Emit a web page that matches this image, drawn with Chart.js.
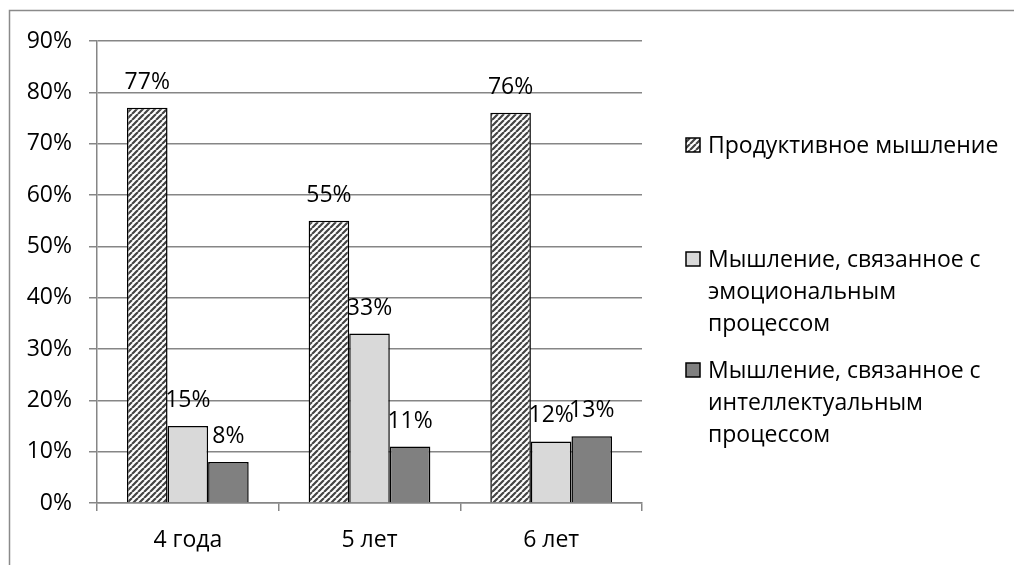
<!DOCTYPE html>
<html>
<head>
<meta charset="utf-8">
<script src="https://cdn.jsdelivr.net/npm/chart.js@4.4.0/dist/chart.umd.min.js"></script>
<style>
  html, body { margin: 0; padding: 0; background: #fff; }
  #wrap { width: 1014px; height: 565px; position: relative; }
</style>
</head>
<body>
<div id="wrap"><canvas id="c" width="1014" height="565"></canvas></div>
<script>
// Age groups along the x axis
const categories = ['4 года', '5 лет', '6 лет'];

// Series names and their wrapped legend lines
const seriesNames = [
  'Продуктивное мышление',
  'Мышление, связанное с эмоциональным процессом',
  'Мышление, связанное с интеллектуальным процессом'
];
const legendLines = [
  ['Продуктивное мышление'],
  ['Мышление, связанное с', 'эмоциональным', 'процессом'],
  ['Мышление, связанное с', 'интеллектуальным', 'процессом']
];

// Shares, in percent
const productive = [77, 55, 76];
const emotional = [15, 33, 12];
const intellectual = [8, 11, 13];

// Value axis
const yTickLabels = ['0%', '10%', '20%', '30%', '40%', '50%', '60%', '70%', '80%', '90%'];

const FONT = '"Open Sans", sans-serif';
const FONT_SIZE = 23;
const AXIS_GRAY = '#868686';

const canvas = document.getElementById('c');
const ctx0 = canvas.getContext('2d');

// Upward diagonal hatch used for the first series
function makeHatch() {
  const s = 6;
  const t = document.createElement('canvas');
  t.width = s; t.height = s;
  const g = t.getContext('2d');
  g.fillStyle = '#ffffff';
  g.fillRect(0, 0, s, s);
  g.strokeStyle = '#444444';
  g.lineWidth = 2.2;
  g.beginPath();
  for (let k = -1; k <= 1; k++) {
    g.moveTo(k * s, s);
    g.lineTo(k * s + s, 0);
  }
  g.stroke();
  return ctx0.createPattern(t, 'repeat');
}
const hatch = makeHatch();
const fills = [hatch, '#d9d9d9', '#808080'];

// Frame around the whole chart
const framePlugin = {
  id: 'frame',
  beforeDraw(chart) {
    const c = chart.ctx;
    c.save();
    c.fillStyle = '#fff';
    c.fillRect(0, 0, chart.width, chart.height);
    c.strokeStyle = '#8a8a8a';
    c.lineWidth = 1.5;
    c.strokeRect(9.5, 10.5, chart.width + 10, chart.height + 10);
    c.restore();
  }
};

// Value labels above every bar
const valueLabels = {
  id: 'valueLabels',
  afterDatasetsDraw(chart) {
    const c = chart.ctx;
    c.save();
    c.font = FONT_SIZE + 'px ' + FONT;
    c.fillStyle = '#000';
    c.textAlign = 'center';
    c.textBaseline = 'alphabetic';
    chart.data.datasets.forEach((ds, i) => {
      chart.getDatasetMeta(i).data.forEach((bar, j) => {
        c.fillText(ds.data[j] + '%', bar.x, bar.y - 19);
      });
    });
    c.restore();
  }
};

// Legend on the right with wrapped labels
const sideLegend = {
  id: 'sideLegend',
  afterDraw(chart) {
    const c = chart.ctx;
    const x0 = 686, box = 14, textX = 708, lineH = 32;
    const firstBaselines = [153, 267, 378];
    c.save();
    c.font = FONT_SIZE + 'px ' + FONT;
    c.textAlign = 'left';
    c.textBaseline = 'alphabetic';
    chart.data.datasets.forEach((ds, i) => {
      const yb = firstBaselines[i];
      c.fillStyle = ds.backgroundColor;
      c.fillRect(x0, yb - 15, box, box);
      c.strokeStyle = '#000';
      c.lineWidth = 1.5;
      c.strokeRect(x0, yb - 15, box, box);
      c.fillStyle = '#000';
      legendLines[i].forEach((line, k) => {
        c.fillText(line, textX, yb + k * lineH);
      });
    });
    c.restore();
  }
};

const seriesValues = [productive, emotional, intellectual];

new Chart(canvas, {
  type: 'bar',
  data: {
    labels: categories,
    datasets: seriesValues.map((vals, i) => ({
      label: seriesNames[i],
      data: vals,
      backgroundColor: fills[i],
      borderColor: '#000',
      borderWidth: 1.5,
      categoryPercentage: 0.67,
      barPercentage: 1.0
    }))
  },
  options: {
    responsive: false,
    animation: false,
    devicePixelRatio: 1,
    layout: { padding: { left: 0, top: 41, right: 372, bottom: 0 } },
    plugins: {
      legend: { display: false },
      tooltip: { enabled: false }
    },
    scales: {
      x: {
        grid: {
          drawOnChartArea: false,
          drawTicks: true,
          tickLength: 8,
          color: AXIS_GRAY,
          lineWidth: 1.5,
          offset: true
        },
        border: { color: AXIS_GRAY, width: 1.5 },
        ticks: {
          color: '#000',
          font: { family: FONT, size: FONT_SIZE },
          padding: 16
        },
        afterFit(scale) { scale.height = 62; }
      },
      y: {
        min: 0,
        max: 90,
        ticks: {
          stepSize: 10,
          color: '#000',
          font: { family: FONT, size: FONT_SIZE },
          padding: 17,
          callback: (v, idx) => yTickLabels[idx]
        },
        grid: {
          color: AXIS_GRAY,
          lineWidth: 1.5,
          tickLength: 8
        },
        border: { color: AXIS_GRAY, width: 1.5 },
        afterFit(scale) { scale.width = 97; }
      }
    }
  },
  plugins: [framePlugin, valueLabels, sideLegend]
});
</script>
</body>
</html>
